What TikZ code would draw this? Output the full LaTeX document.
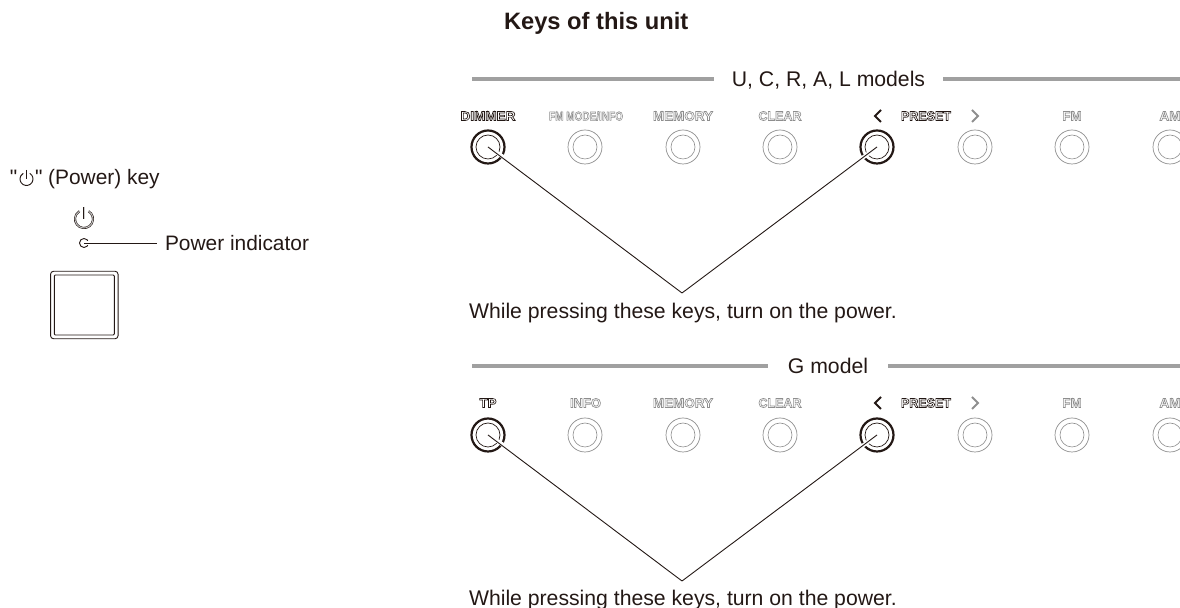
\documentclass[tikz,border=0pt]{standalone}
\usepackage{fontspec}
\usepackage{graphicx}
\setmainfont{Liberation Sans}
\newfontfamily\quotefont{Liberation Sans}
\definecolor{inkblack}{HTML}{231815}
\definecolor{keygray}{HTML}{8E8E8E}
\definecolor{bargray}{HTML}{A0A0A0}
% outlined capitals of the panel, squeezed to a given width
\newcommand{\panellabel}[2]{\resizebox{#1}{4.5pt}{\special{pdf:code q 1 Tr 0.3 w}\bfseries #2\special{pdf:code Q}}}
\begin{document}
\begin{tikzpicture}[x=0.5pt,y=-0.5pt]
  \tikzstyle{every node} = [align=center,inner sep=0pt,outer sep=0pt,text=inkblack,font=\fontsize{10.6}{12}\selectfont]
  \tikzstyle{caption} = [anchor=base west]
  \tikzstyle{sidetext} = [font=\fontsize{10.45}{12}\selectfont]
  \tikzstyle{model} = [text height=7.6pt,text depth=0pt,inner xsep=9pt]
  \tikzstyle{bar} = [bargray,line width=2pt]
  \tikzstyle{ringout} = [circle,draw=keygray,line width=0.35pt,minimum size=17pt]
  \tikzstyle{ringin} = [circle,draw=keygray,line width=0.3pt,minimum size=12pt]
  \tikzstyle{ringon} = [circle,draw=inkblack,line width=1.1pt,minimum size=16.5pt]
  \tikzstyle{ringonin} = [circle,draw=inkblack,line width=0.35pt,minimum size=12pt]
  \tikzstyle{offlabel} = [text=keygray,font=\fontsize{6}{6}\selectfont]
  \tikzstyle{onlabel} = [text=inkblack,font=\fontsize{6}{6}\selectfont]
  \tikzstyle{halo} = [white,line width=2pt,shorten >=-2pt]
  \tikzstyle{leader} = [inkblack,line width=0.45pt]
  \tikzstyle{powermark} = [inkblack,line width=0.3pt,double=black!20,double distance=0.45pt]
  \clip (0,0) rectangle (1180,608);

  % power key on the left
  \node[caption,sidetext] (quote) at (10,185) {\quotefont "};
  \node[caption,sidetext] (powerkeytext) at (35,185) {\quotefont "\rmfamily{} (Power) key};
  \coordinate (smallpower) at (26.5,179);
  \draw[leader] ([shift={(-60:6.5)}]smallpower) arc[start angle=-60,end angle=240,radius=6.5];
  \draw[leader] (26.5,170) -- (smallpower);

  \coordinate (bigpower) at (84,219);
  \draw[powermark] ([shift={(-60:9)}]bigpower) arc[start angle=-60,end angle=240,radius=9];
  \draw[powermark] (84,207) -- (bigpower);

  \node[circle,draw=inkblack,line width=0.45pt,minimum size=4.5pt] (indicator) at (84,243) {};
  \node[model,sidetext,anchor=west,inner xsep=4pt] (indicatortext) at (157,243) {Power indicator};
  \draw[halo] (indicator.center) -- (indicator.east);
  \draw[leader] (indicator.center) -- (indicatortext);

  \node[draw=inkblack,line width=0.45pt,rounded corners=1.5pt,minimum size=33.75pt] (powerkey) at (84.3,305) {};
  \node[draw=inkblack,line width=0.45pt,rounded corners=0.5pt,minimum size=30pt] (powerkeyin) at (84.3,305) {};

  \node[anchor=base west,font=\fontsize{11.85}{13}\selectfont] (heading) at (504,30) {\bfseries Keys of this unit};

  % first row
  \node[model] (uclmodels) at (828.5,79) {U, C, R, A, L models};
  \coordinate (barone) at (472,79);
  \coordinate (bartwo) at (1180,79);
  \draw[bar] (barone) -- (uclmodels);
  \draw[bar] (uclmodels) -- (bartwo);

  \foreach \x/\n in {585/b,683/c,780/d,975/f,1072/g,1170/h} {
    \node[ringout] (one\n) at (\x,147) {};
    \node[ringin] (one\n in) at (\x,147) {};
  }
  \node[offlabel] (lmodeinfo) at (586,116) {\panellabel{37pt}{FM MODE/INFO}};
  \node[offlabel] (lmemory) at (683,116) {\panellabel{30pt}{MEMORY}};
  \node[offlabel] (lclear) at (780,116) {\panellabel{21.5pt}{CLEAR}};
  \node[offlabel] (lfm) at (1072,116) {\panellabel{9.5pt}{FM}};
  \node[offlabel] (lam) at (1170,116) {\panellabel{10.5pt}{AM}};
  \node[onlabel] (ldimmer) at (488,116) {\panellabel{27.5pt}{DIMMER}};
  \node[onlabel] (lpreset) at (926,116) {\panellabel{25pt}{PRESET}};
  \draw[inkblack,line width=0.9pt] (881,110) -- (875,116) -- (881,122);
  \draw[keygray,line width=0.9pt] (972,110) -- (978,116) -- (972,122);

  \node[ringon] (dimmer) at (488,147) {};
  \node[ringonin] (dimmerin) at (488,147) {};
  \node[ringon] (leftone) at (877,147) {};
  \node[ringonin] (leftonein) at (877,147) {};
  \coordinate (apexone) at (682,293);
  \draw[halo] (dimmer.center) -- (dimmer.-33);
  \draw[halo] (leftone.center) -- (leftone.-143);
  \draw[leader] (dimmer.center) -- (apexone);
  \draw[leader] (leftone.center) -- (apexone);
  \node[caption] (pressone) at (469,319) {While pressing these keys, turn on the power.};

  % second row
  \node[model,inner xsep=10pt] (gmodel) at (828,366) {G model};
  \coordinate (barthree) at (472,366);
  \coordinate (barfour) at (1180,366);
  \draw[bar] (barthree) -- (gmodel);
  \draw[bar] (gmodel) -- (barfour);

  \foreach \x/\n in {585/b,683/c,780/d,975/f,1072/g,1170/h} {
    \node[ringout] (two\n) at (\x,435) {};
    \node[ringin] (two\n in) at (\x,435) {};
  }
  \node[offlabel] (linfo) at (585.5,403) {\panellabel{15.5pt}{INFO}};
  \node[offlabel] (lmemorytwo) at (683,403) {\panellabel{30pt}{MEMORY}};
  \node[offlabel] (lcleartwo) at (780,403) {\panellabel{21.5pt}{CLEAR}};
  \node[offlabel] (lfmtwo) at (1072,403) {\panellabel{9.5pt}{FM}};
  \node[offlabel] (lamtwo) at (1170,403) {\panellabel{10.5pt}{AM}};
  \node[onlabel] (ltp) at (488,403) {\panellabel{8.5pt}{TP}};
  \node[onlabel] (lpresettwo) at (926,403) {\panellabel{25pt}{PRESET}};
  \draw[inkblack,line width=0.9pt] (881,397) -- (875,403) -- (881,409);
  \draw[keygray,line width=0.9pt] (972,397) -- (978,403) -- (972,409);

  \node[ringon] (tp) at (488,435) {};
  \node[ringonin] (tpin) at (488,435) {};
  \node[ringon] (lefttwo) at (877,435) {};
  \node[ringonin] (lefttwoin) at (877,435) {};
  \coordinate (apextwo) at (682,581);
  \draw[halo] (tp.center) -- (tp.-33);
  \draw[halo] (lefttwo.center) -- (lefttwo.-143);
  \draw[leader] (tp.center) -- (apextwo);
  \draw[leader] (lefttwo.center) -- (apextwo);
  \node[caption] (presstwo) at (469,606) {While pressing these keys, turn on the power.};
\end{tikzpicture}
\end{document}
